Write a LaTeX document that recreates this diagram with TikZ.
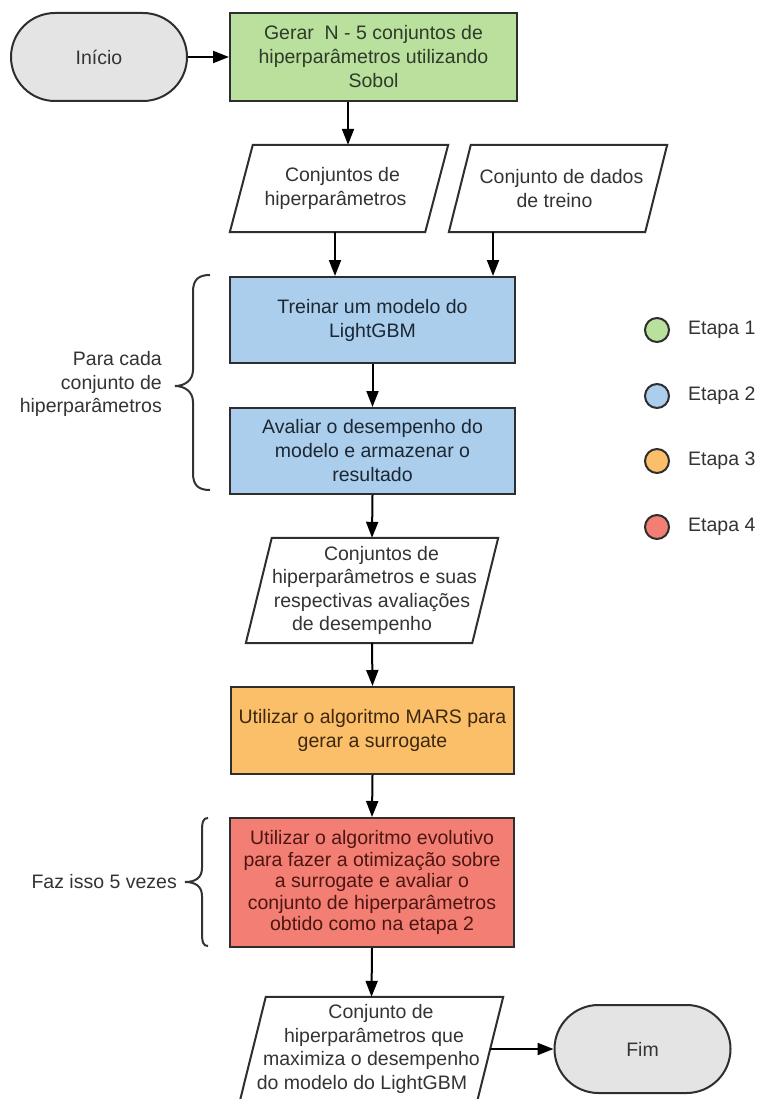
\documentclass[tikz,border=0pt]{standalone}
\usepackage{fontspec}
\setmainfont{Liberation Sans}
\usetikzlibrary{arrows.meta,calc}
\definecolor{cgray}{HTML}{E4E4E4}
\definecolor{cgreen}{HTML}{B9E09C}
\definecolor{cblue}{HTML}{AACEEC}
\definecolor{corange}{HTML}{FBBE69}
\definecolor{cred}{HTML}{F37E73}
\definecolor{tgreen}{HTML}{2F3B2A}
\definecolor{tblue}{HTML}{1C2733}
\definecolor{torange}{HTML}{3D2810}
\definecolor{tred}{HTML}{4D1612}
\definecolor{tdark}{HTML}{333333}
\definecolor{edge}{HTML}{2E2E2E}
\begin{document}
\begin{tikzpicture}[x=1pt,y=-1pt,
  every node/.style={font=\fontsize{19.5}{24}\selectfont, inner sep=0pt},
  box/.style={draw=edge, line width=2pt, align=center},
  term/.style={box, fill=cgray, rounded corners=44pt, minimum width=176pt, minimum height=88pt, text=tdark},
  pholder/.style={align=center, text=tdark},
  para/.style={draw=edge, line width=2pt, line join=miter},
  arr/.style={draw=black, line width=2pt, -{Triangle[length=16pt,width=12pt]}},
  brc/.style={draw=tdark, line width=2pt},
  lbl/.style={text=tdark, align=right},
  legc/.style={circle, draw=edge, line width=2pt, minimum size=24pt},
  legt/.style={text=tdark, anchor=west}
]
\clip (0,0) rectangle (758,1099);

% terminals
\node[term] (start) at (99,57) {Início};
\node[term] (fim) at (642.5,1049) {Fim};

% process boxes
\node[box, fill=cgreen, text=tgreen, minimum width=287pt, minimum height=88pt] (gen) at (373.5,57)
  {Gerar\ \ N - 5 conjuntos de\\hiperparâmetros utilizando\\Sobol};
\node[box, fill=cblue, text=tblue, minimum width=285pt, minimum height=86pt] (train) at (372.5,320)
  {Treinar um modelo do\\LightGBM};
\node[box, fill=cblue, text=tblue, minimum width=285pt, minimum height=86pt] (eval) at (372.5,451)
  {Avaliar o desempenho do\\modelo e armazenar o\\resultado};
\node[box, fill=corange, text=torange, minimum width=283pt, minimum height=87pt] (mars) at (372.5,730.5)
  {Utilizar o algoritmo MARS para\\gerar a surrogate};
\node[box, fill=cred, text=tred, minimum width=284pt, minimum height=129pt,
      font=\fontsize{19.5}{21.5}\selectfont] (evo) at (372,882.5)
  {Utilizar o algoritmo evolutivo\\para fazer a otimização sobre\\a surrogate e avaliar o\\conjunto de hiperparâmetros\\obtido como na etapa 2};

% data (parallelogram) nodes: text holders
\node[pholder, minimum width=218pt, minimum height=87pt] (p1) at (339,188.5)
  {\hspace*{7pt}Conjuntos de\\hiperparâmetros\hspace*{7pt}};
\node[pholder, minimum width=218pt, minimum height=87pt] (p2) at (558,188.5)
  {\hspace*{7pt}Conjunto de dados\\de treino\hspace*{7pt}};
\node[pholder, minimum width=252pt, minimum height=105pt, font=\fontsize{19.5}{23.5}\selectfont] (p3) at (372,590.5)
  {\hspace*{19pt}Conjuntos de\\\hspace*{5pt}hiperparâmetros e suas\\respectivas avaliações\hspace*{7pt}\\de desempenho\hspace*{20pt}};
\node[pholder, minimum width=263pt, minimum height=104pt, font=\fontsize{19.5}{23.5}\selectfont] (p4) at (371.5,1049)
  {\hspace*{19pt}Conjunto de\\\hspace*{5pt}hiperparâmetros que\\maximiza o desempenho\hspace*{3pt}\\do modelo do LightGBM\hspace*{19pt}};

% parallelogram outlines
\draw[para] (p1.south west) -- ([xshift=-23pt]p1.south east) -- (p1.north east) -- ([xshift=23pt]p1.north west) -- cycle;
\draw[para] (p2.south west) -- ([xshift=-22pt]p2.south east) -- (p2.north east) -- ([xshift=22pt]p2.north west) -- cycle;
\draw[para] (p3.south west) -- ([xshift=-26pt]p3.south east) -- (p3.north east) -- ([xshift=26pt]p3.north west) -- cycle;
\draw[para] (p4.south west) -- ([xshift=-26pt]p4.south east) -- (p4.north east) -- ([xshift=26pt]p4.north west) -- cycle;

% connectors
\draw[arr] (start.east) -- (gen.west);
\draw[arr] ([xshift=-25.5pt]gen.south) -- ([xshift=9pt]p1.north);
\draw[arr] ([xshift=-4pt]p1.south) -- ([xshift=-37.5pt]train.north);
\draw[arr] ([xshift=-65pt]p2.south) -- ([xshift=120.5pt]train.north);
\draw[arr] (train.south) -- (eval.north);
\draw[arr] (eval.south) -- (p3.north);
\draw[arr] (p3.south) -- (mars.north);
\draw[arr] (mars.south) -- (evo.north);
\draw[arr] (evo.south) -- (p4.north);
\draw[arr] ([xshift=-13pt]p4.east) -- (fim.west);

% braces
\draw[brc] (210,275) .. controls (198,275) and (193,280) .. (193,292) -- (193,370)
  .. controls (193,380) and (185,386) .. (175,386)
  .. controls (185,386) and (193,392) .. (193,402) -- (193,473)
  .. controls (193,485) and (198,490) .. (210,490);
\draw[brc] (208,818) .. controls (203,818) and (202,822) .. (202,832) -- (202,868)
  .. controls (202,878) and (195,882) .. (185,882)
  .. controls (195,882) and (202,886) .. (202,896) -- (202,932)
  .. controls (202,942) and (203,946) .. (208,946);
\node[lbl, anchor=east, font=\fontsize{19.5}{23.5}\selectfont] (loop1) at (162,384) {Para cada\\conjunto de\\hiperparâmetros};
\node[lbl, anchor=east] (loop2) at (177,882) {Faz isso 5 vezes};

% legend
\node[legc, fill=cgreen] (c1) at (657,330) {};
\node[legc, fill=cblue] (c2) at (657,396) {};
\node[legc, fill=corange] (c3) at (657,461) {};
\node[legc, fill=cred] (c4) at (657,527) {};
\node[legt] (l1) at (688,330) {Etapa 1};
\node[legt] (l2) at (688,396) {Etapa 2};
\node[legt] (l3) at (688,461) {Etapa 3};
\node[legt] (l4) at (688,527) {Etapa 4};
\end{tikzpicture}
\end{document}
